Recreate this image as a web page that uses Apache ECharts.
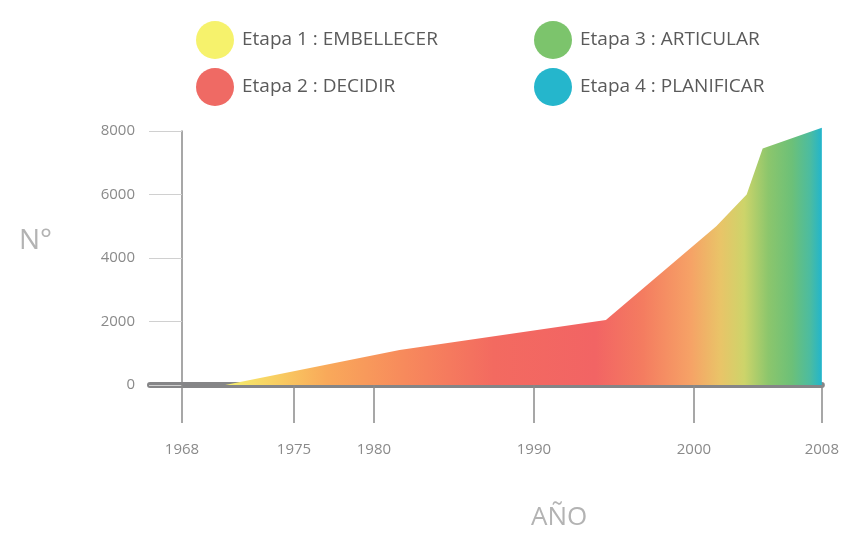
<!DOCTYPE html>
<html>
<head>
<meta charset="utf-8">
<script src="https://cdn.jsdelivr.net/npm/echarts@6/dist/echarts.min.js"></script>
<style>
  html, body { margin: 0; padding: 0; background: #ffffff; }
  #chart { width: 842px; height: 533px; }
</style>
</head>
<body>
<div id="chart"></div>
<script>
// Cumulative count per year (area outline points)
const years  = [1970.7, 1981.6, 1994.5, 2001.4, 2003.3, 2004.3, 2008];
const totals = [0, 1100, 2050, 5000, 6000, 7450, 8100];

// Axis ticks
const yearTicks = [1968, 1975, 1980, 1990, 2000, 2008];
const countTicks = [0, 2000, 4000, 6000, 8000];

// Stages shown in the legend
const stageNames  = ['Etapa 1 : EMBELLECER', 'Etapa 2 : DECIDIR', 'Etapa 3 : ARTICULAR', 'Etapa 4 : PLANIFICAR'];
const stageColors = ['#f6f26c', '#ef6a64', '#7cc46c', '#25b6cc'];

const chart = echarts.init(document.getElementById('chart'), null, { renderer: 'canvas' });

const fontFamily = '"Open Sans", "Noto Sans", sans-serif';

// Horizontal colour ramp across the area: yellow -> orange -> red -> orange -> green -> cyan
const areaGradient = new echarts.graphic.LinearGradient(0, 0, 1, 0, [
  { offset: 0.00, color: '#f4ef6e' },
  { offset: 0.08, color: '#f8d062' },
  { offset: 0.17, color: '#f9a95a' },
  { offset: 0.30, color: '#f78a5c' },
  { offset: 0.45, color: '#f36a60' },
  { offset: 0.62, color: '#f26464' },
  { offset: 0.70, color: '#f47c60' },
  { offset: 0.78, color: '#f6a266' },
  { offset: 0.83, color: '#e9c468' },
  { offset: 0.87, color: '#cdd46a' },
  { offset: 0.91, color: '#8cc66c' },
  { offset: 0.95, color: '#6cc078' },
  { offset: 0.98, color: '#4cbca0' },
  { offset: 1.00, color: '#22b5cc' }
]);

const legendText = {
  fontFamily: fontFamily,
  fontSize: 19,
  color: '#5a5a5a',
  padding: [0, 0, 0, 3]
};

const option = {
  backgroundColor: '#ffffff',
  animation: false,
  title: [
    { text: 'N°', left: 14, top: 222,
      textStyle: { fontFamily: fontFamily, fontSize: 28, fontWeight: 'normal', color: '#b3b3b3' } },
    { text: 'AÑO', left: 526, top: 500,
      textStyle: { fontFamily: fontFamily, fontSize: 26, fontWeight: 'normal', color: '#b3b3b3' } }
  ],
  legend: [
    { data: stageNames.slice(0, 2), orient: 'vertical', left: 191, top: 16,
      icon: 'circle', itemWidth: 38, itemHeight: 38, itemGap: 9,
      itemStyle: { opacity: 1 },
      textStyle: legendText, selectedMode: false },
    { data: stageNames.slice(2, 4), orient: 'vertical', left: 529, top: 16,
      icon: 'circle', itemWidth: 38, itemHeight: 38, itemGap: 9,
      itemStyle: { opacity: 1 },
      textStyle: legendText, selectedMode: false }
  ],
  grid: { left: 150, right: 20, top: 131, bottom: 148, containLabel: false },
  xAxis: {
    type: 'value',
    min: 1966,
    max: 2008,
    splitLine: { show: false },
    axisLine: { show: true, lineStyle: { color: '#858587', width: 6 } },
    axisTick: { show: true, customValues: yearTicks, length: 38, inside: false,
      lineStyle: { color: '#8a8a8a', width: 1.5 } },
    axisLabel: { show: true, customValues: yearTicks, margin: 57,
      fontFamily: fontFamily, fontSize: 15, color: '#8a8a8a',
      formatter: v => String(v) }
  },
  yAxis: {
    type: 'value',
    min: 0,
    max: 8000,
    offset: -32,
    splitLine: { show: false },
    axisLine: { show: true, onZero: false, lineStyle: { color: '#8a8a8a', width: 1.5 } },
    axisTick: { show: true, customValues: countTicks, length: 33,
      lineStyle: { color: '#d0d0d0', width: 1 } },
    axisLabel: { show: true, customValues: countTicks, margin: 47,
      fontFamily: fontFamily, fontSize: 15, color: '#8a8a8a',
      formatter: v => String(v) }
  },
  series: [
    {
      type: 'line',
      data: years.map((y, i) => [y, totals[i]]),
      showSymbol: false,
      smooth: false,
      clip: false,
      z: 1,
      lineStyle: { width: 0 },
      areaStyle: { color: areaGradient, opacity: 1 }
    }
  ].concat(stageNames.map((name, i) => ({
    name: name,
    type: 'scatter',
    data: [],
    itemStyle: { color: stageColors[i], opacity: 1 }
  })))
};

chart.setOption(option);
</script>
</body>
</html>
